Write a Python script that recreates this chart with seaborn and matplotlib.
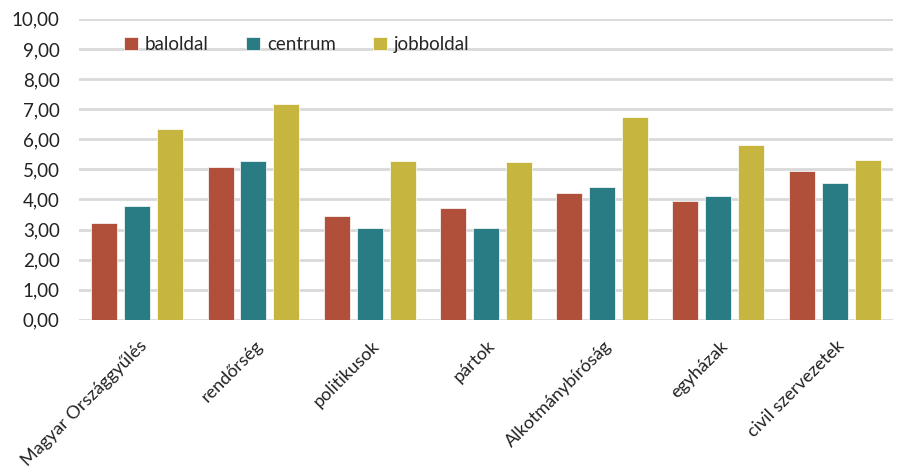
import matplotlib
matplotlib.use("Agg")
import matplotlib.pyplot as plt
from matplotlib.ticker import FuncFormatter, MultipleLocator
from matplotlib.transforms import ScaledTranslation
import pandas as pd
import seaborn as sns

categories = ["Magyar Országgyűlés", "rendőrség", "politikusok", "pártok",
              "Alkotmánybíróság", "egyházak", "civil szervezetek"]
baloldal = [3.23, 5.09, 3.44, 3.71, 4.22, 3.96, 4.95]
centrum = [3.78, 5.27, 3.05, 3.05, 4.40, 4.11, 4.54]
jobboldal = [6.33, 7.18, 5.27, 5.24, 6.73, 5.82, 5.31]
series = ["baloldal", "centrum", "jobboldal"]
colors = ["#B0503B", "#297B84", "#C6B63F"]

df = pd.DataFrame({"kat": categories, "baloldal": baloldal,
                   "centrum": centrum, "jobboldal": jobboldal})
long = df.melt(id_vars="kat", var_name="oldal", value_name="ertek")

sns.set_style("white")
plt.rcParams["font.family"] = ["Lato", "DejaVu Sans"]

fig, ax = plt.subplots(figsize=(8.99, 4.71), dpi=100)
fig.subplots_adjust(left=0.088, right=0.993, top=0.96, bottom=0.321)

sns.barplot(data=long, x="kat", y="ertek", hue="oldal", hue_order=series,
            palette=colors, saturation=1, width=0.85, gap=0.21, ax=ax,
            zorder=3, edgecolor="white", linewidth=0.5)

ax.set_ylim(0, 10)
ax.set_xlim(-0.5, 6.5)
ax.yaxis.set_major_locator(MultipleLocator(1))
ax.yaxis.set_major_formatter(FuncFormatter(lambda v, p: f"{v:.2f}".replace(".", ",")))
ax.grid(axis="y", color="#D9D9D9", linewidth=2, zorder=0)
ax.set_axisbelow(True)
for s in ax.spines.values():
    s.set_visible(False)
ax.tick_params(axis="y", length=0, labelsize=13.5, colors="#222222", pad=14)
ax.tick_params(axis="x", length=0, labelsize=13, colors="#222222", pad=17)
ax.set_xlabel("")
ax.set_ylabel("")
shift = ScaledTranslation(7 / 100, 0, fig.dpi_scale_trans)
for lab in ax.get_xticklabels():
    lab.set_rotation(45)
    lab.set_ha("right")
    lab.set_va("center")
    lab.set_rotation_mode("anchor")
    lab.set_transform(lab.get_transform() + shift)

ax.legend(loc="upper left", bbox_to_anchor=(0.035, 1.0), ncol=3, frameon=False,
          fontsize=13.5, handlelength=0.7, handleheight=0.7, handletextpad=0.4,
          columnspacing=2.0)

fig.savefig("out.png", dpi=100)
